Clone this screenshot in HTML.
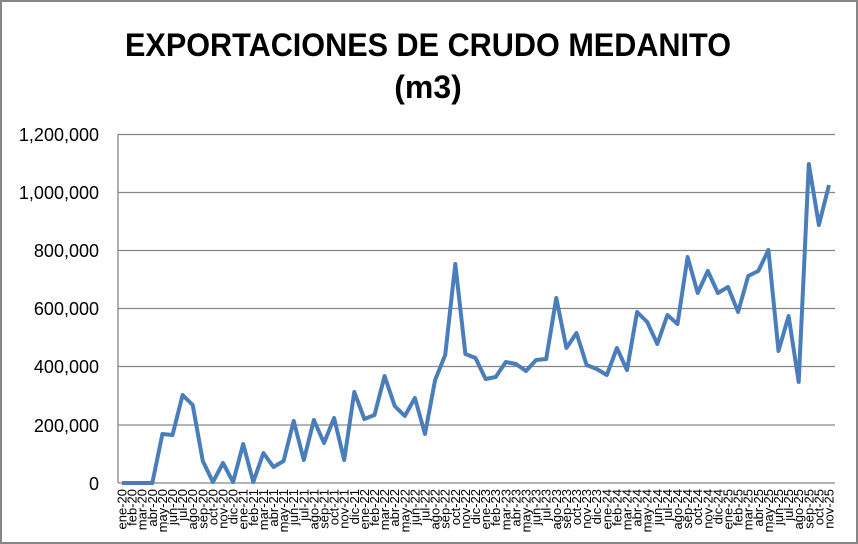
<!DOCTYPE html>
<html><head><meta charset="utf-8"><style>
html,body{margin:0;padding:0;background:#fff;}
svg{display:block;}
</style></head><body>
<svg width="858" height="544" viewBox="0 0 858 544" xmlns="http://www.w3.org/2000/svg" font-family="Liberation Sans, sans-serif">
<rect x="1" y="1" width="856" height="542" fill="#fff" stroke="#868686" stroke-width="2"/>
<text x="428" y="56" text-anchor="middle" font-weight="bold" font-size="32" textLength="606" lengthAdjust="spacingAndGlyphs">EXPORTACIONES DE CRUDO MEDANITO</text>
<text x="428" y="98" text-anchor="middle" font-weight="bold" font-size="32">(m3)</text>
<g stroke="#868686" stroke-width="1.3">
<line x1="118" y1="134.5" x2="835" y2="134.5"/>
<line x1="118" y1="192.5" x2="835" y2="192.5"/>
<line x1="118" y1="250.5" x2="835" y2="250.5"/>
<line x1="118" y1="308.5" x2="835" y2="308.5"/>
<line x1="118" y1="366.5" x2="835" y2="366.5"/>
<line x1="118" y1="425" x2="835" y2="425"/>
<line x1="118" y1="483" x2="835" y2="483"/>
<line x1="118" y1="134" x2="118" y2="483"/>
</g>
<g font-size="18" text-anchor="end" fill="#000">
<text x="99" y="141">1,200,000</text>
<text x="99" y="199">1,000,000</text>
<text x="99" y="257">800,000</text>
<text x="99" y="315">600,000</text>
<text x="99" y="373">400,000</text>
<text x="99" y="432">200,000</text>
<text x="99" y="490">0</text>
</g>
<polyline fill="none" stroke="#4a7ebb" stroke-width="4" stroke-linejoin="round" points="122,483 132.1,483 142.2,483 152.3,483 162.4,434 172.5,435 182.6,395 192.7,405 202.8,461 212.9,482 223,463 233.1,482 243.2,444 253.3,482 263.4,453 273.5,467 283.6,461 293.7,421 303.8,460 313.9,420 324,443 334.1,418 344.2,460 354.3,392 364.4,419 374.5,415 384.6,376 394.7,406 404.8,416 414.9,398 425,434 435.1,380 445.2,355 455.3,264 465.4,354 475.5,358 485.6,379 495.7,377 505.8,362 515.9,364 526,371 536.1,360 546.2,359 556.3,298 566.4,348 576.5,333 586.6,365 596.7,369 606.8,375 616.9,348 627,370 637.1,312 647.2,322 657.3,344 667.4,315 677.5,324 687.6,257 697.7,293 707.8,271 717.9,293 728,287 738.1,312 748.2,276 758.3,271 768.4,250 778.5,351 788.6,316 798.7,382 808.8,164 818.9,225 829,185"/>
<g font-size="13" fill="#000" text-anchor="end">
<text transform="translate(126.5,489) rotate(-90)">ene-20</text>
<text transform="translate(136.6,489) rotate(-90)">feb-20</text>
<text transform="translate(146.7,489) rotate(-90)">mar-20</text>
<text transform="translate(156.8,489) rotate(-90)">abr-20</text>
<text transform="translate(166.9,489) rotate(-90)">may-20</text>
<text transform="translate(177,489) rotate(-90)">jun-20</text>
<text transform="translate(187.1,489) rotate(-90)">jul-20</text>
<text transform="translate(197.2,489) rotate(-90)">ago-20</text>
<text transform="translate(207.3,489) rotate(-90)">sep-20</text>
<text transform="translate(217.4,489) rotate(-90)">oct-20</text>
<text transform="translate(227.5,489) rotate(-90)">nov-20</text>
<text transform="translate(237.6,489) rotate(-90)">dic-20</text>
<text transform="translate(247.7,489) rotate(-90)">ene-21</text>
<text transform="translate(257.8,489) rotate(-90)">feb-21</text>
<text transform="translate(267.9,489) rotate(-90)">mar-21</text>
<text transform="translate(278,489) rotate(-90)">abr-21</text>
<text transform="translate(288.1,489) rotate(-90)">may-21</text>
<text transform="translate(298.2,489) rotate(-90)">jun-21</text>
<text transform="translate(308.3,489) rotate(-90)">jul-21</text>
<text transform="translate(318.4,489) rotate(-90)">ago-21</text>
<text transform="translate(328.5,489) rotate(-90)">sep-21</text>
<text transform="translate(338.6,489) rotate(-90)">oct-21</text>
<text transform="translate(348.7,489) rotate(-90)">nov-21</text>
<text transform="translate(358.8,489) rotate(-90)">dic-21</text>
<text transform="translate(368.9,489) rotate(-90)">ene-22</text>
<text transform="translate(379,489) rotate(-90)">feb-22</text>
<text transform="translate(389.1,489) rotate(-90)">mar-22</text>
<text transform="translate(399.2,489) rotate(-90)">abr-22</text>
<text transform="translate(409.3,489) rotate(-90)">may-22</text>
<text transform="translate(419.4,489) rotate(-90)">jun-22</text>
<text transform="translate(429.5,489) rotate(-90)">jul-22</text>
<text transform="translate(439.6,489) rotate(-90)">ago-22</text>
<text transform="translate(449.7,489) rotate(-90)">sep-22</text>
<text transform="translate(459.8,489) rotate(-90)">oct-22</text>
<text transform="translate(469.9,489) rotate(-90)">nov-22</text>
<text transform="translate(480,489) rotate(-90)">dic-22</text>
<text transform="translate(490.1,489) rotate(-90)">ene-23</text>
<text transform="translate(500.2,489) rotate(-90)">feb-23</text>
<text transform="translate(510.3,489) rotate(-90)">mar-23</text>
<text transform="translate(520.4,489) rotate(-90)">abr-23</text>
<text transform="translate(530.5,489) rotate(-90)">may-23</text>
<text transform="translate(540.6,489) rotate(-90)">jun-23</text>
<text transform="translate(550.7,489) rotate(-90)">jul-23</text>
<text transform="translate(560.8,489) rotate(-90)">ago-23</text>
<text transform="translate(570.9,489) rotate(-90)">sep-23</text>
<text transform="translate(581,489) rotate(-90)">oct-23</text>
<text transform="translate(591.1,489) rotate(-90)">nov-23</text>
<text transform="translate(601.2,489) rotate(-90)">dic-23</text>
<text transform="translate(611.3,489) rotate(-90)">ene-24</text>
<text transform="translate(621.4,489) rotate(-90)">feb-24</text>
<text transform="translate(631.5,489) rotate(-90)">mar-24</text>
<text transform="translate(641.6,489) rotate(-90)">abr-24</text>
<text transform="translate(651.7,489) rotate(-90)">may-24</text>
<text transform="translate(661.8,489) rotate(-90)">jun-24</text>
<text transform="translate(671.9,489) rotate(-90)">jul-24</text>
<text transform="translate(682,489) rotate(-90)">ago-24</text>
<text transform="translate(692.1,489) rotate(-90)">sep-24</text>
<text transform="translate(702.2,489) rotate(-90)">oct-24</text>
<text transform="translate(712.3,489) rotate(-90)">nov-24</text>
<text transform="translate(722.4,489) rotate(-90)">dic-24</text>
<text transform="translate(732.5,489) rotate(-90)">ene-25</text>
<text transform="translate(742.6,489) rotate(-90)">feb-25</text>
<text transform="translate(752.7,489) rotate(-90)">mar-25</text>
<text transform="translate(762.8,489) rotate(-90)">abr-25</text>
<text transform="translate(772.9,489) rotate(-90)">may-25</text>
<text transform="translate(783,489) rotate(-90)">jun-25</text>
<text transform="translate(793.1,489) rotate(-90)">jul-25</text>
<text transform="translate(803.2,489) rotate(-90)">ago-25</text>
<text transform="translate(813.3,489) rotate(-90)">sep-25</text>
<text transform="translate(823.4,489) rotate(-90)">oct-25</text>
<text transform="translate(833.5,489) rotate(-90)">nov-25</text>
</g>
</svg>
</body></html>
